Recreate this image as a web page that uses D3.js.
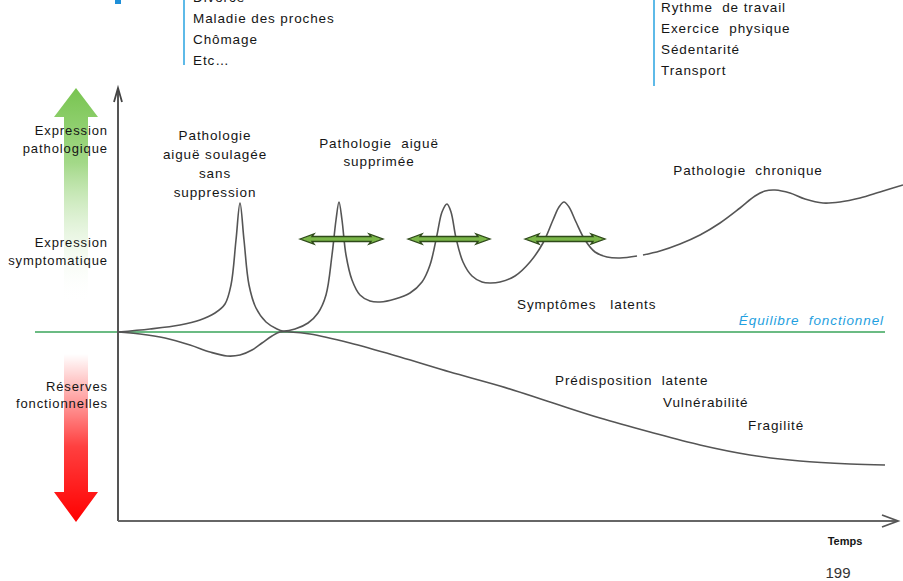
<!DOCTYPE html>
<html>
<head>
<meta charset="utf-8">
<script src="https://cdn.jsdelivr.net/npm/d3@7"></script>
<style>
  body { margin: 0; background: #fff; }
  svg text { font-family: "Liberation Sans", Arial, sans-serif; fill: #151515; letter-spacing: 0.9px; }
</style>
</head>
<body>
<div id="chart"></div>
<script>
// time (t) and level (v) of the curves, 0 = functional equilibrium
var upperT1 = [0,32,62,82,97,107,113,118,122,126,131,138,148,159,165,177,190,200,208,214,
  218,221,224,228,234,242,252,262,277,292,304,312,319,324,329,333,338,345,354,364,
  372,382,397,412,425,435,441,446,451,458,467,477,489,502,519];
var upperV1 = [0,3,7,12,19,28,47,92,129,92,47,24,10,3,1,3,9,19,37,77,
  112,130,112,77,52,37,31,30,33,39,50,67,97,120,128,120,94,70,56,50,
  49,50,56,70,89,112,125,130,125,110,92,80,75,74,76];
var upperT2 = [525,542,562,582,602,622,637,647,657,672,687,705,722,742,762,785];
var upperV2 = [77,81,88,97,109,124,136,141,142,139,133,129,130,134,140,147];
var lowerT = [0,22,47,72,92,109,122,134,144,154,162,172,192,232,282,332,382,432,482,532,582,632,682,732,767];
var lowerV = [0,-2,-6,-13,-20,-24,-23,-18,-11,-4,0,0,-2,-11,-25,-40,-54,-70,-86,-100,-113,-123,-129,-132,-133];

// green double arrows (start, end, level)
var arrowStart = [182, 290, 407];
var arrowEnd = [265, 372, 487];
var arrowLevel = 93;

var topLeftItems = ["Divorce", "Maladie des proches", "Chômage", "Etc…"];
var topRightItems = ["Rythme  de travail", "Exercice  physique", "Sédentarité", "Transport"];

var width = 903, height = 581;

var x = d3.scaleLinear().domain([0, 785]).range([118, 903]);
var y = d3.scaleLinear().domain([-190, 245]).range([522, 87]);

var svg = d3.select("#chart")
  .append("svg")
  .attr("width", width)
  .attr("height", height);

var defs = svg.append("defs");

var gUp = defs.append("linearGradient")
  .attr("id", "gradUp").attr("x1", 0).attr("y1", 0).attr("x2", 0).attr("y2", 1);
gUp.append("stop").attr("offset", "0%").attr("stop-color", "#78c450").attr("stop-opacity", 1);
gUp.append("stop").attr("offset", "35%").attr("stop-color", "#8ccf6a").attr("stop-opacity", 0.8);
gUp.append("stop").attr("offset", "100%").attr("stop-color", "#ffffff").attr("stop-opacity", 0);

var gDown = defs.append("linearGradient")
  .attr("id", "gradDown").attr("x1", 0).attr("y1", 0).attr("x2", 0).attr("y2", 1);
gDown.append("stop").attr("offset", "0%").attr("stop-color", "#ff0000").attr("stop-opacity", 0);
gDown.append("stop").attr("offset", "55%").attr("stop-color", "#ff0000").attr("stop-opacity", 0.75);
gDown.append("stop").attr("offset", "100%").attr("stop-color", "#ff0000").attr("stop-opacity", 1);

// side arrows (green up / red down)
var ac = x(-42);
svg.append("path")
  .attr("d", "M" + ac + "," + y(244) + "L" + (ac + 22) + "," + y(215) + "L" + (ac + 12) + "," + y(215) +
    "L" + (ac + 12) + "," + y(30) + "L" + (ac - 12) + "," + y(30) + "L" + (ac - 12) + "," + y(215) +
    "L" + (ac - 22) + "," + y(215) + "Z")
  .attr("fill", "url(#gradUp)");
svg.append("path")
  .attr("d", "M" + (ac - 12) + "," + y(-22) + "L" + (ac + 12) + "," + y(-22) + "L" + (ac + 12) + "," + y(-160) +
    "L" + (ac + 22) + "," + y(-160) + "L" + ac + "," + y(-190) + "L" + (ac - 22) + "," + y(-160) +
    "L" + (ac - 12) + "," + y(-160) + "Z")
  .attr("fill", "url(#gradDown)");

// equilibrium line
svg.append("line")
  .attr("x1", x(-83)).attr("x2", x(767))
  .attr("y1", y(0)).attr("y2", y(0))
  .attr("stroke", "#3aa55a").attr("stroke-width", 1.5);

// axes
svg.append("line")
  .attr("x1", x(0)).attr("x2", x(0))
  .attr("y1", y(-189)).attr("y2", y(243))
  .attr("stroke", "#555").attr("stroke-width", 2);
svg.append("path")
  .attr("d", "M" + (x(0) - 4) + "," + (y(244) + 14) + "L" + x(0) + "," + y(244) + "L" + (x(0) + 4) + "," + (y(244) + 14))
  .attr("fill", "none").attr("stroke", "#444").attr("stroke-width", 1.8);
svg.append("line")
  .attr("x1", x(0)).attr("x2", x(779))
  .attr("y1", y(-189)).attr("y2", y(-189))
  .attr("stroke", "#666").attr("stroke-width", 2);
svg.append("path")
  .attr("d", "M" + (x(780) - 16) + "," + (y(-189) - 6) + "L" + x(780) + "," + y(-189) + "L" + (x(780) - 16) + "," + (y(-189) + 6))
  .attr("fill", "none").attr("stroke", "#555").attr("stroke-width", 1.8);

// curves
var line = d3.line()
  .x(d => x(d[0]))
  .y(d => y(d[1]))
  .curve(d3.curveCatmullRom.alpha(0.5));

[[upperT1, upperV1], [upperT2, upperV2], [lowerT, lowerV]].forEach(function(s) {
  svg.append("path")
    .datum(d3.zip(s[0], s[1]))
    .attr("d", line)
    .attr("fill", "none")
    .attr("stroke", "#555")
    .attr("stroke-width", 1.6);
});

// green double arrows
svg.selectAll(".dbl")
  .data(d3.zip(arrowStart, arrowEnd))
  .enter()
  .append("path")
  .attr("class", "dbl")
  .attr("d", function(d) {
    var a = x(d[0]), b = x(d[1]), c = y(arrowLevel);
    return "M" + a + "," + c + "L" + (a + 14) + "," + (c - 5) + "L" + (a + 12) + "," + (c - 2.5) +
      "L" + (b - 12) + "," + (c - 2.5) + "L" + (b - 14) + "," + (c - 5) + "L" + b + "," + c +
      "L" + (b - 14) + "," + (c + 5) + "L" + (b - 12) + "," + (c + 2.5) + "L" + (a + 12) + "," + (c + 2.5) +
      "L" + (a + 14) + "," + (c + 5) + "Z";
  })
  .attr("fill", "#7ab648")
  .attr("stroke", "#2f4a1a")
  .attr("stroke-width", 1.3);

// top lists
svg.append("line").attr("x1", 184).attr("x2", 184).attr("y1", 0).attr("y2", 65)
  .attr("stroke", "#29a3e0").attr("stroke-width", 1.5);
svg.append("line").attr("x1", 654).attr("x2", 654).attr("y1", 0).attr("y2", 86)
  .attr("stroke", "#29a3e0").attr("stroke-width", 1.5);
svg.append("rect").attr("x", 115).attr("y", 0).attr("width", 6).attr("height", 4).attr("fill", "#1e8fd8");

svg.selectAll(".tl")
  .data(topLeftItems)
  .enter()
  .append("text")
  .attr("x", 193)
  .attr("y", (d, i) => 2 + i * 21)
  .attr("font-size", 13.5)
  .style("white-space", "pre")
  .text(d => d);

svg.selectAll(".tr")
  .data(topRightItems)
  .enter()
  .append("text")
  .attr("x", 661)
  .attr("y", (d, i) => 12 + i * 21)
  .attr("font-size", 13.5)
  .style("white-space", "pre")
  .text(d => d);

// side labels
function label(lines, px, py, anchor, size, dy) {
  var t = svg.append("text")
    .attr("text-anchor", anchor)
    .attr("font-size", size || 13.5)
    .style("white-space", "pre");
  lines.forEach(function(l, i) {
    t.append("tspan").attr("x", px).attr("y", py + i * (dy || 18)).text(l);
  });
  return t;
}

label(["Expression", "pathologique"], 108, 135, "end", 13, 18);
label(["Expression", "symptomatique"], 108, 247, "end", 13, 18);
label(["Réserves", "fonctionnelles"], 108, 391, "end", 13, 17);

label(["Pathologie", "aiguë soulagée", "sans", "suppression"], 215, 140, "middle", 13.5, 19);
label(["Pathologie  aiguë", "supprimée"], 379, 148, "middle", 13.5, 18);
label(["Pathologie  chronique"], 748, 175, "middle", 13.5);
label(["Symptômes   latents"], 517, 309, "start", 13.5);
label(["Prédisposition  latente"], 555, 385, "start", 13.5);
label(["Vulnérabilité"], 663, 407, "start", 13.5);
label(["Fragilité"], 748, 430, "start", 13.5);

svg.append("text")
  .attr("x", 884).attr("y", 325)
  .attr("text-anchor", "end")
  .attr("font-size", 13.5)
  .attr("font-style", "italic")
  .style("fill", "#1f9fe0")
  .style("white-space", "pre")
  .text("Équilibre  fonctionnel");

svg.append("text")
  .attr("x", 845).attr("y", 545)
  .attr("text-anchor", "middle")
  .attr("font-size", 11)
  .attr("font-weight", "bold")
  .style("letter-spacing", "0px")
  .text("Temps");

svg.append("text")
  .attr("x", 838).attr("y", 578)
  .attr("text-anchor", "middle")
  .attr("font-size", 15)
  .style("fill", "#333")
  .style("letter-spacing", "0px")
  .text("199");
</script>
</body>
</html>
